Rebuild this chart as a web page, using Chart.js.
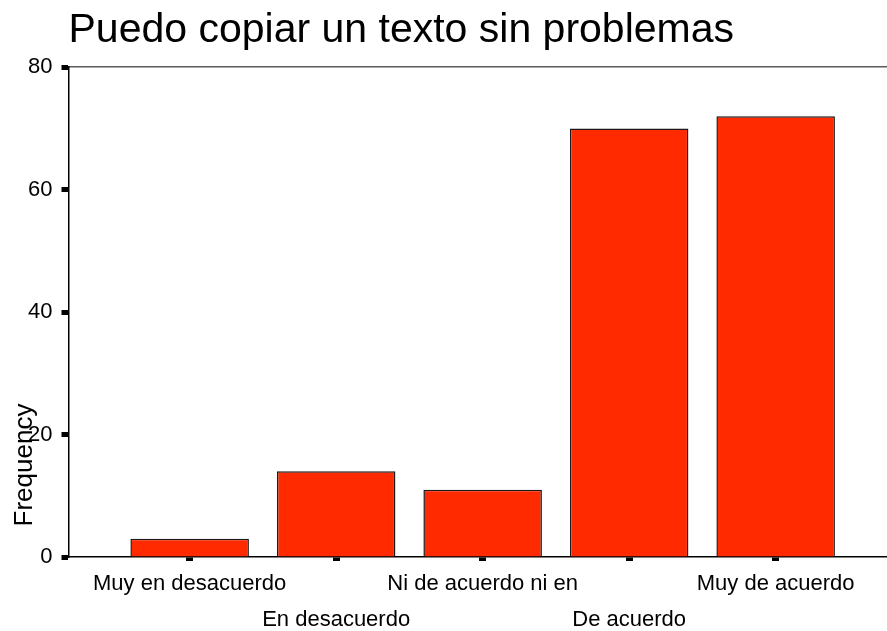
<!DOCTYPE html>
<html>
<head>
<meta charset="utf-8">
<script src="https://cdn.jsdelivr.net/npm/chart.js@4/dist/chart.umd.min.js"></script>
<style>
  html, body { margin: 0; padding: 0; background: #ffffff; }
  #wrap { width: 887px; height: 631px; }
</style>
</head>
<body>
<div id="wrap"><canvas id="c" width="887" height="631"></canvas></div>
<script>
const chartTitle = 'Puedo copiar un texto sin problemas';
const yAxisTitle = 'Frequency';
const categories = ['Muy en desacuerdo', 'En desacuerdo', 'Ni de acuerdo ni en', 'De acuerdo', 'Muy de acuerdo'];
const frequencies = [3, 14, 11, 70, 72];
const yTicks = [0, 20, 40, 60, 80];

const FONT = '"Liberation Sans", Arial, Helvetica, sans-serif';

const yTitlePlugin = {
  id: 'yTitlePlugin',
  afterDraw(chart) {
    const ctx = chart.ctx;
    const area = chart.chartArea;
    ctx.save();
    ctx.translate(32, area.bottom - 92);
    ctx.rotate(-Math.PI / 2);
    ctx.font = '26px ' + FONT;
    ctx.fillStyle = '#000000';
    ctx.textAlign = 'center';
    ctx.textBaseline = 'alphabetic';
    ctx.fillText(yAxisTitle, 0, 0);
    ctx.restore();
  }
};

new Chart(document.getElementById('c'), {
  type: 'bar',
  data: {
    datasets: [{
      data: frequencies.map((v, i) => ({ x: i, y: v })),
      backgroundColor: '#ff2a00',
      borderColor: '#1a1a1a',
      borderWidth: 1.5,
      categoryPercentage: 0.809,
      barPercentage: 1
    }]
  },
  options: {
    responsive: false,
    animation: false,
    events: [],
    layout: { padding: 0 },
    plugins: {
      legend: { display: false },
      tooltip: { enabled: false },
      title: {
        display: true,
        text: chartTitle,
        align: 'start',
        fullSize: false,
        color: '#000000',
        font: { family: FONT, size: 41, weight: 'normal' },
        padding: { top: 6, bottom: 12 }
      }
    },
    scales: {
      x: {
        type: 'linear',
        position: 'bottom',
        offset: false,
        min: -0.827,
        max: 4.76,
        afterBuildTicks: (s) => { s.ticks = categories.map((_, i) => ({ value: i })); },
        afterFit: (s) => { s.height = 74; },
        grid: { offset: false, drawOnChartArea: false, tickLength: 4, tickWidth: 7, tickColor: '#000000' },
        border: { display: true, color: '#000000', width: 1.5 },
        ticks: {
          autoSkip: false,
          maxRotation: 0,
          minRotation: 0,
          padding: 5,
          color: '#000000',
          font: { family: FONT, size: 22, lineHeight: 1.636 },
          callback: (v) => {
            const i = Math.round(v);
            return i % 2 ? ['', categories[i]] : categories[i];
          }
        }
      },
      x2: {
        type: 'linear',
        position: 'top',
        offset: false,
        min: -0.827,
        max: 4.76,
        afterFit: (s) => { s.height = 0; },
        grid: { display: false, drawTicks: false, offset: false },
        border: { display: true, color: '#5a5a5a', width: 1.5 },
        ticks: { display: false }
      },
      y: {
        min: 0,
        max: 80,
        afterBuildTicks: (s) => { s.ticks = yTicks.map(v => ({ value: v })); },
        afterFit: (s) => { s.width = 68.5; },
        grid: { drawOnChartArea: false, tickLength: 7, tickWidth: 5, tickColor: '#000000' },
        border: { display: true, color: '#000000', width: 1.5 },
        ticks: {
          padding: 9,
          color: '#000000',
          font: { family: FONT, size: 22 }
        }
      }
    }
  },
  plugins: [yTitlePlugin]
});
</script>
</body>
</html>
